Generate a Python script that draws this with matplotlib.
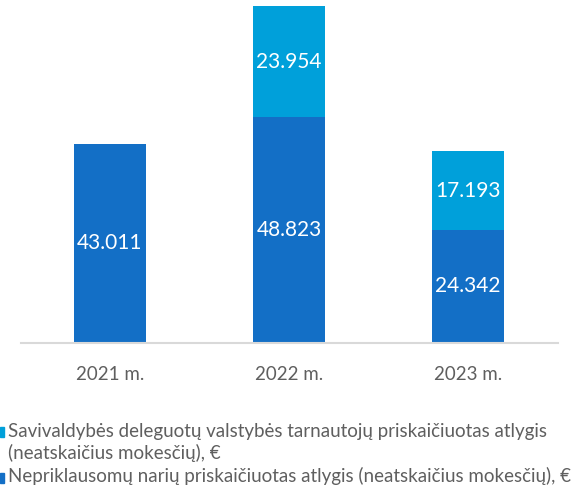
import matplotlib
matplotlib.use('Agg')
import matplotlib.pyplot as plt
from matplotlib.patches import Rectangle
import numpy as np

##################
# Data
##################

years = ['2021 m.', '2022 m.', '2023 m.']
nepriklausomi = [43.011, 48.823, 24.342]
savivaldybes = [0, 23.954, 17.193]

label_savivaldybes = 'Savivaldybės deleguotų valstybės tarnautojų priskaičiuotas atlygis\n(neatskaičius mokesčių), €'
label_nepriklausomi = 'Nepriklausomų narių priskaičiuotas atlygis (neatskaičius mokesčių), €'

dark_blue = '#136FC6'
light_blue = '#00A0DA'
gray = '#5F5F5F'

plt.rcParams['font.family'] = ['Lato', 'DejaVu Sans']

##################
# Figure
##################

fig = plt.figure(figsize=(5.78, 4.91), dpi=100)
ax = fig.add_axes([20.5 / 578, (491 - 342.7) / 491, 537 / 578, 339.6 / 491])

x = np.arange(len(years))
width = 0.397

ax.bar(x, nepriklausomi, width, color=dark_blue)
ax.bar(x, savivaldybes, width, bottom=nepriklausomi, color=light_blue)

# Value labels in the middle of each segment
for i in range(len(years)):
    ax.text(x[i], nepriklausomi[i] / 2, f'{nepriklausomi[i]:.3f}',
            ha='center', va='center', color='white', fontsize=15)
    if savivaldybes[i] > 0:
        ax.text(x[i], nepriklausomi[i] + savivaldybes[i] / 2, f'{savivaldybes[i]:.3f}',
                ha='center', va='center', color='white', fontsize=15)

ax.set_xlim(-0.5, 2.5)
ax.set_ylim(0, 73.5)
ax.set_yticks([])
ax.set_xticks(x)
ax.set_xticklabels(years, color=gray, fontsize=13.5)
ax.tick_params(axis='x', length=0, pad=17)
for side in ['top', 'right', 'left']:
    ax.spines[side].set_visible(False)
ax.spines['bottom'].set_color('#D9D9D9')
ax.spines['bottom'].set_linewidth(1.5)

##################
# Legend
##################

W, H = 578, 491
fig.patches.append(Rectangle((0 / W, 1 - 437 / H), 4 / W, 10 / H,
                             transform=fig.transFigure, color=light_blue))
fig.patches.append(Rectangle((0 / W, 1 - 483 / H), 4 / W, 10 / H,
                             transform=fig.transFigure, color=dark_blue))

legend_lines = label_savivaldybes.split('\n') + [label_nepriklausomi]
baselines = [437, 459, 482]
for line, yb in zip(legend_lines, baselines):
    fig.text(8 / W, 1 - yb / H, line, color=gray, fontsize=13.5,
             ha='left', va='baseline')

fig.savefig('out.png', dpi=100, facecolor='white')
